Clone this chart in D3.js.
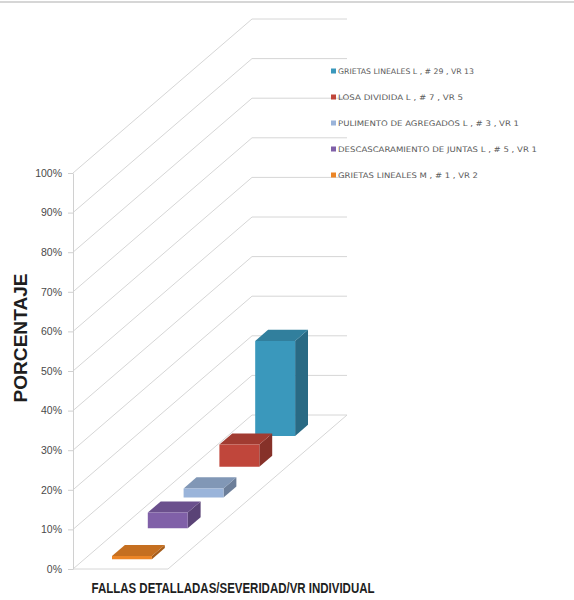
<!DOCTYPE html>
<html>
<head>
<meta charset="utf-8">
<script src="https://cdn.jsdelivr.net/npm/d3@7"></script>
<style>
  html, body { margin: 0; padding: 0; background: #ffffff; }
  svg { display: block; }
</style>
</head>
<body>
<svg id="chart" width="574" height="600"></svg>
<script>
// ---- data -------------------------------------------------------------
// Series in depth order: front row first, back row last.
const seriesNames = [
  "GRIETAS LINEALES M , # 1 , VR 2",
  "DESCASCARAMIENTO DE JUNTAS L , # 5 , VR 1",
  "PULIMENTO DE AGREGADOS L , # 3 , VR 1",
  "LOSA DIVIDIDA  L , # 7 , VR 5",
  "GRIETAS LINEALES L , # 29 , VR 13"
];
const seriesValues = [0.8, 4.0, 2.3, 5.6, 24.0];   // percent
const categories = ["FALLAS DETALLADAS/SEVERIDAD/VR INDIVIDUAL"];
const yTickValues = [0, 10, 20, 30, 40, 50, 60, 70, 80, 90, 100];
const yTickLabels = ["0%", "10%", "20%", "30%", "40%", "50%", "60%", "70%", "80%", "90%", "100%"];
const seriesColors = ["#ec8526", "#8060a8", "#9ab4da", "#c0463b", "#3a98bc"];
const yAxisTitle = "PORCENTAJE";

// ---- layout -----------------------------------------------------------
const svg = d3.select("#chart");
const floorY = 569, topY = 173, axisX = 73;
const floorWidth = 95;                 // lateral extent of the plot floor
const depthStep = [35.8, -30.8];       // screen offset per depth row
const legendTextWidths = [140, 199, 181, 125, 136]; // fitted text widths, same order as series

const yScale = d3.scaleLinear().domain([0, 100]).range([floorY, topY]);
const lateral = d3.scaleBand().domain(categories).range([0, floorWidth])
  .paddingInner(0).paddingOuter(0.69);
const depth = d3.scaleBand().domain(d3.range(seriesNames.length))
  .range([0, seriesNames.length]).paddingInner(0.64).paddingOuter(0.32);
const depthMax = seriesNames.length;

// oblique projection: lateral offset l (px), depth d (rows), value v (%)
function project(l, d, v) {
  return [axisX + l + d * depthStep[0], yScale(v) + d * depthStep[1]];
}
const line = d3.line();

// frame line along the top edge
svg.append("rect").attr("x", 0).attr("y", 1).attr("width", 574).attr("height", 2)
  .attr("fill", "#d6d6d6");

// ---- walls: gridlines on side wall and back wall ----------------------
const grid = svg.append("g").attr("fill", "none").attr("stroke", "#d6d6d6").attr("stroke-width", 1);
yTickValues.forEach(v => {
  grid.append("path").attr("d", line([
    project(0, 0, v), project(0, depthMax, v), project(floorWidth, depthMax, v)
  ]));
});
// floor edges
grid.append("path").attr("d", line([
  project(0, 0, 0), project(floorWidth, 0, 0), project(floorWidth, depthMax, 0)
]));

// ---- y axis -----------------------------------------------------------
const yAxis = d3.axisLeft(yScale)
  .tickValues(yTickValues)
  .tickFormat((d, i) => yTickLabels[i])
  .tickSize(5).tickSizeOuter(0).tickPadding(6);
const ag = svg.append("g").attr("transform", `translate(${axisX},0)`).call(yAxis);
ag.select(".domain").attr("stroke", "#d0d0d0");
ag.selectAll(".tick line").attr("stroke", "#d0d0d0");
ag.selectAll(".tick text")
  .attr("font-family", "'Liberation Sans', Arial, sans-serif")
  .attr("font-size", 10.5).attr("fill", "#4a4a4a");

// ---- bars (drawn back to front) ---------------------------------------
const barsG = svg.append("g");
const order = d3.range(seriesNames.length).reverse();
order.forEach(i => {
  const v = seriesValues[i];
  const l0 = lateral(categories[0]), l1 = l0 + lateral.bandwidth();
  const d0 = depth(i), d1 = d0 + depth.bandwidth();
  const base = d3.color(seriesColors[i]);
  const g = barsG.append("g");
  // right side face
  g.append("path").attr("d", line([
    project(l1, d0, 0), project(l1, d1, 0), project(l1, d1, v), project(l1, d0, v)
  ]) + "Z").attr("fill", base.darker(1.0).formatHex());
  // top face
  g.append("path").attr("d", line([
    project(l0, d0, v), project(l1, d0, v), project(l1, d1, v), project(l0, d1, v)
  ]) + "Z").attr("fill", base.darker(0.5).formatHex());
  // front face
  g.append("path").attr("d", line([
    project(l0, d0, 0), project(l1, d0, 0), project(l1, d0, v), project(l0, d0, v)
  ]) + "Z").attr("fill", base.formatHex());
});

// ---- axis titles ------------------------------------------------------
svg.append("text")
  .attr("transform", "translate(27,338) rotate(-90)")
  .attr("text-anchor", "middle")
  .attr("font-family", "'Liberation Sans', Arial, sans-serif")
  .attr("font-weight", "bold").attr("font-size", 18)
  .attr("textLength", 129).attr("lengthAdjust", "spacingAndGlyphs")
  .attr("fill", "#1e1e1e")
  .text(yAxisTitle);

svg.append("text")
  .attr("x", 233).attr("y", 593)
  .attr("text-anchor", "middle")
  .attr("font-family", "'Liberation Sans Narrow', 'Liberation Sans', Arial, sans-serif")
  .attr("font-weight", "bold").attr("font-size", 14.5)
  .attr("textLength", 283).attr("lengthAdjust", "spacingAndGlyphs")
  .attr("fill", "#1e1e1e")
  .text(categories[0]);

// ---- legend (back row listed first) -----------------------------------
const legend = svg.append("g").attr("transform", "translate(331,71)");
order.forEach((i, k) => {
  const row = legend.append("g").attr("transform", `translate(0,${k * 26})`);
  row.append("rect").attr("x", 0).attr("y", -2.5).attr("width", 5).attr("height", 5)
    .attr("fill", seriesColors[i]);
  row.append("text").attr("x", 7).attr("y", 0).attr("dy", "0.35em")
    .attr("font-family", "'DejaVu Sans', sans-serif")
    .attr("font-size", 7.6).attr("fill", "#5a5a5a")
    .attr("textLength", legendTextWidths[i]).attr("lengthAdjust", "spacingAndGlyphs")
    .text(seriesNames[i]);
});
</script>
</body>
</html>
